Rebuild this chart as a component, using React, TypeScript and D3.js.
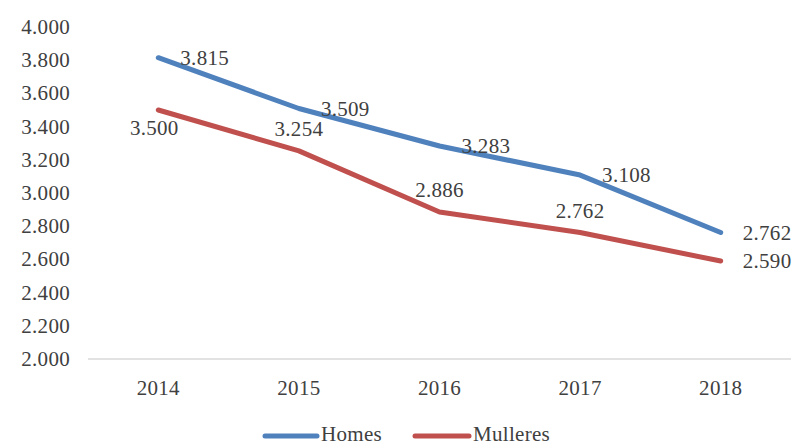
import React from 'react';
import * as d3 from 'd3';

const years = ['2014', '2015', '2016', '2017', '2018'];
const homes = [3.815, 3.509, 3.283, 3.108, 2.762];
const mulleres = [3.5, 3.254, 2.886, 2.762, 2.59];
const homesLabelPos = ['right', 'right', 'right', 'right', 'right'];
const mulleresLabelPos = ['below', 'above', 'above', 'above', 'right'];
const yTicks = [2.0, 2.2, 2.4, 2.6, 2.8, 3.0, 3.2, 3.4, 3.6, 3.8, 4.0];

const W = 798;
const H = 447;
const txt: React.CSSProperties = {
  fontFamily: "'Liberation Serif', 'DejaVu Serif', serif",
  fontSize: '21px',
  letterSpacing: '0.3px',
  fill: '#404040',
};
const fmt = (v: number) => v.toFixed(3);

export default function App() {
  const x = d3.scaleBand().domain(years).range([88, 791]);
  const y = d3.scaleLinear().domain([2, 4]).range([359, 27]);
  const cx = (d: string) => (x(d) ?? 0) + x.bandwidth() / 2;

  const line = d3
    .line<number>()
    .x((_, i) => cx(years[i]))
    .y((v) => y(v));

  const series = [
    { name: 'Homes', values: homes, color: '#4F81BD', pos: homesLabelPos },
    { name: 'Mulleres', values: mulleres, color: '#C0504D', pos: mulleresLabelPos },
  ];

  // data label placement relative to the point
  const labelXY = (i: number, v: number, pos: string) => {
    const px = cx(years[i]);
    const py = y(v);
    if (pos === 'right') return { lx: px + 22, ly: py + 7, anchor: 'start' };
    if (pos === 'above') return { lx: px, ly: py - 15, anchor: 'middle' };
    return { lx: px - 4, ly: py + 25, anchor: 'middle' };
  };

  return (
    <svg
      width={W}
      height={H}
      style={{ position: 'absolute', left: 0, top: 0, background: '#fff' }}
    >
      {/* y ticks */}
      {yTicks.map((t) => (
        <text key={t} x={70} y={y(t) + 7} textAnchor="end" style={txt}>
          {fmt(t)}
        </text>
      ))}
      {/* baseline */}
      <line x1={88} x2={791} y1={y(2)} y2={y(2)} stroke="#d9d9d9" strokeWidth={1.5} />
      {/* x labels */}
      {years.map((yr) => (
        <text key={yr} x={cx(yr)} y={395} textAnchor="middle" style={txt}>
          {yr}
        </text>
      ))}
      {/* series */}
      {series.map((s) => (
        <path
          key={s.name}
          d={line(s.values) ?? ''}
          fill="none"
          stroke={s.color}
          strokeWidth={5}
          strokeLinecap="round"
          strokeLinejoin="round"
        />
      ))}
      {series.map((s) =>
        s.values.map((v, i) => {
          const { lx, ly, anchor } = labelXY(i, v, s.pos[i]);
          return (
            <text key={s.name + i} x={lx} y={ly} textAnchor={anchor} style={txt}>
              {fmt(v)}
            </text>
          );
        })
      )}
      {/* legend */}
      <line x1={265} x2={317} y1={436} y2={436} stroke="#4F81BD" strokeWidth={5} strokeLinecap="round" />
      <text x={321} y={441} style={txt}>Homes</text>
      <line x1={415} x2={469} y1={436} y2={436} stroke="#C0504D" strokeWidth={5} strokeLinecap="round" />
      <text x={473} y={441} style={txt}>Mulleres</text>
    </svg>
  );
}
